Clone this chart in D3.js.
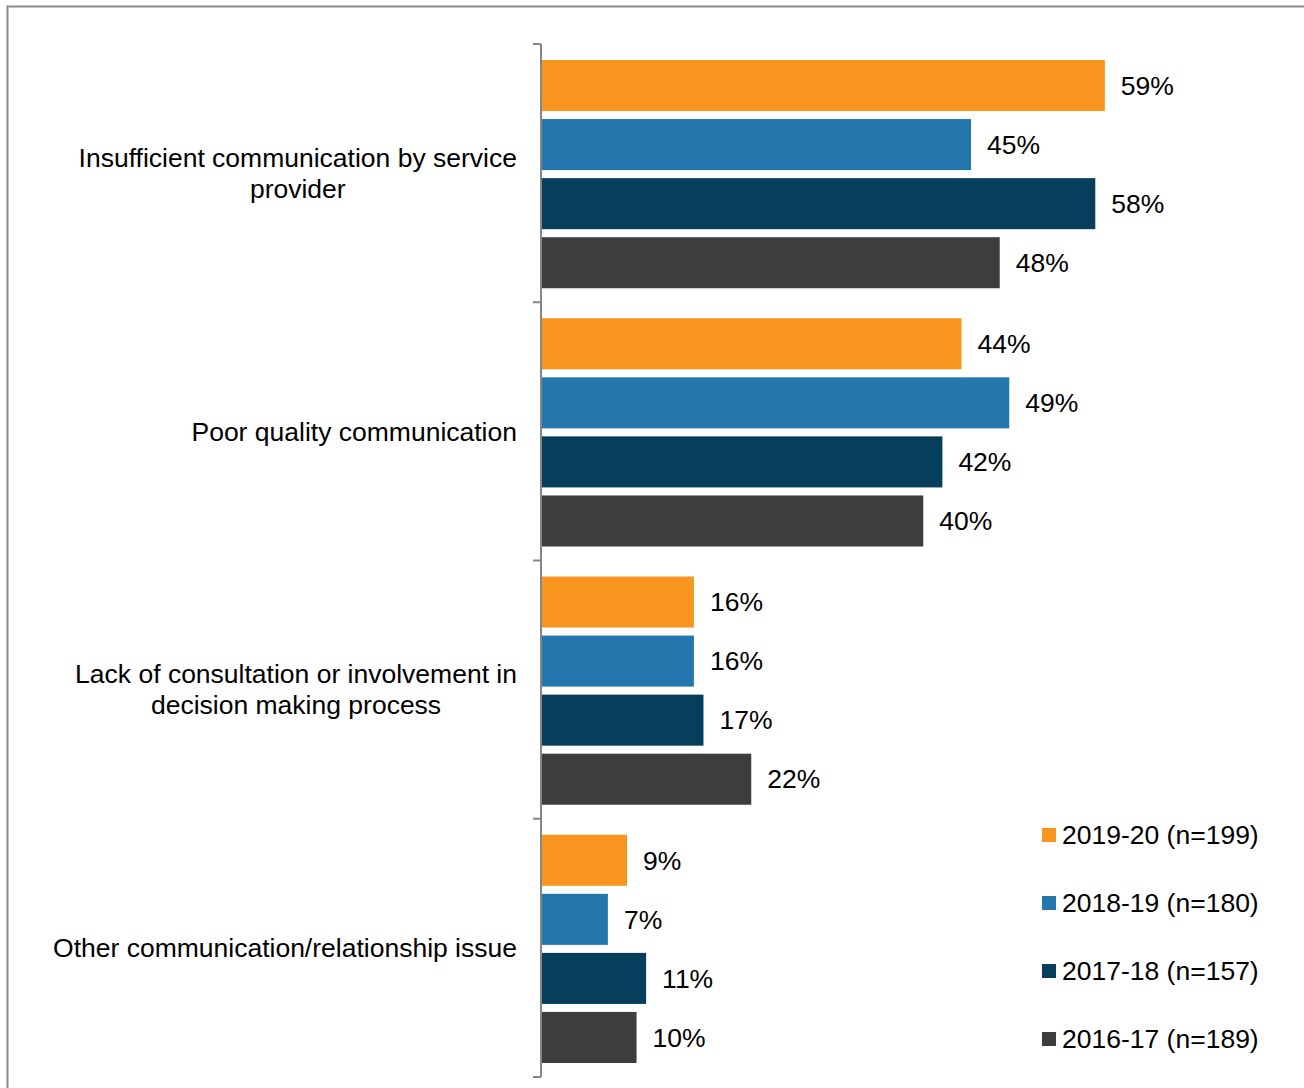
<!DOCTYPE html>
<html>
<head>
<meta charset="utf-8">
<script src="https://cdn.jsdelivr.net/npm/d3@7"></script>
<style>
  html, body { margin: 0; padding: 0; background: #fff; }
  svg { display: block; }
  text { font-family: "Liberation Sans", Arial, sans-serif; fill: #000; }
</style>
</head>
<body>
<svg id="chart" width="1304" height="1088"></svg>
<script>
// Categories (each may wrap onto several lines)
const categories = [
  ["Insufficient communication by service", "provider"],
  ["Poor quality communication"],
  ["Lack of consultation or involvement in", "decision making process"],
  ["Other communication/relationship issue"]
];
const seriesNames = ["2019-20 (n=199)", "2018-19 (n=180)", "2017-18 (n=157)", "2016-17 (n=189)"];
const seriesColors = ["#F7951E", "#2377AD", "#063F5C", "#3D3D3D"];
// Share of complaints, per category, one array per year
const values2019 = [0.59, 0.44, 0.16, 0.09];
const values2018 = [0.45, 0.49, 0.16, 0.07];
const values2017 = [0.58, 0.42, 0.17, 0.11];
const values2016 = [0.48, 0.40, 0.22, 0.10];
const seriesValues = [values2019, values2018, values2017, values2016];

const fontSize = "26.5px";
const svg = d3.select("#chart");

// Outer frame
svg.append("rect")
  .attr("x", 7.5).attr("y", 6.5)
  .attr("width", 1310).attr("height", 1100)
  .attr("fill", "none").attr("stroke", "#8C8C8C").attr("stroke-width", 2);

const x0 = 541, yTop = 44, yBottom = 1077;
const x = d3.scaleLinear().domain([0, 0.6]).range([x0, x0 + 573.4]);
const y = d3.scaleBand().domain(d3.range(categories.length)).range([yTop, yBottom]).paddingInner(0).paddingOuter(0);
const ySub = d3.scaleBand().domain(d3.range(seriesNames.length))
  .range([16, y.bandwidth() - 14]).paddingInner(8 / 59).paddingOuter(0);

// Bars and value labels
categories.forEach((c, ci) => {
  const g = svg.append("g").attr("transform", `translate(0,${y(ci)})`);
  seriesValues.forEach((vals, si) => {
    const v = vals[ci];
    g.append("rect")
      .attr("x", x(0)).attr("y", ySub(si))
      .attr("width", x(v) - x(0)).attr("height", ySub.bandwidth())
      .attr("fill", seriesColors[si]);
    g.append("text")
      .attr("x", x(v) + 16).attr("y", ySub(si) + ySub.bandwidth() / 2)
      .attr("dy", "0.35em")
      .style("font-size", fontSize)
      .text(d3.format(".0%")(v));
  });
});

// Category axis: vertical line with outward ticks at band boundaries
const axis = svg.append("g").attr("stroke", "#868686").attr("stroke-width", 2).attr("fill", "none");
axis.append("line").attr("x1", x0).attr("x2", x0).attr("y1", yTop).attr("y2", yBottom);
d3.range(categories.length + 1).forEach(i => {
  const yy = i < categories.length ? y(i) : yBottom;
  axis.append("line").attr("x1", x0 - 8).attr("x2", x0).attr("y1", yy).attr("y2", yy);
});

// Category labels: centred lines, block right-aligned to the axis
categories.forEach((lines, ci) => {
  const cy = y(ci) + y.bandwidth() / 2;
  const lh = 31;
  const t = svg.append("text")
    .style("font-size", fontSize)
    .attr("text-anchor", "middle");
  lines.forEach((ln, li) => {
    t.append("tspan").attr("y", cy + (li - (lines.length - 1) / 2) * lh).attr("dy", "0.35em").text(ln);
  });
  // measure the widest line, then place the centre of the block
  const w = d3.max(t.selectAll("tspan").nodes(), n => n.getComputedTextLength());
  const cx = 517 - w / 2;
  t.selectAll("tspan").attr("x", cx);
});

// Legend
const legend = svg.append("g");
seriesNames.forEach((name, i) => {
  const ly = 835 + i * 68;
  legend.append("rect").attr("x", 1042).attr("y", ly - 7).attr("width", 14).attr("height", 14).attr("fill", seriesColors[i]);
  legend.append("text").attr("x", 1062).attr("y", ly).attr("dy", "0.35em").style("font-size", fontSize).text(name);
});
</script>
</body>
</html>
